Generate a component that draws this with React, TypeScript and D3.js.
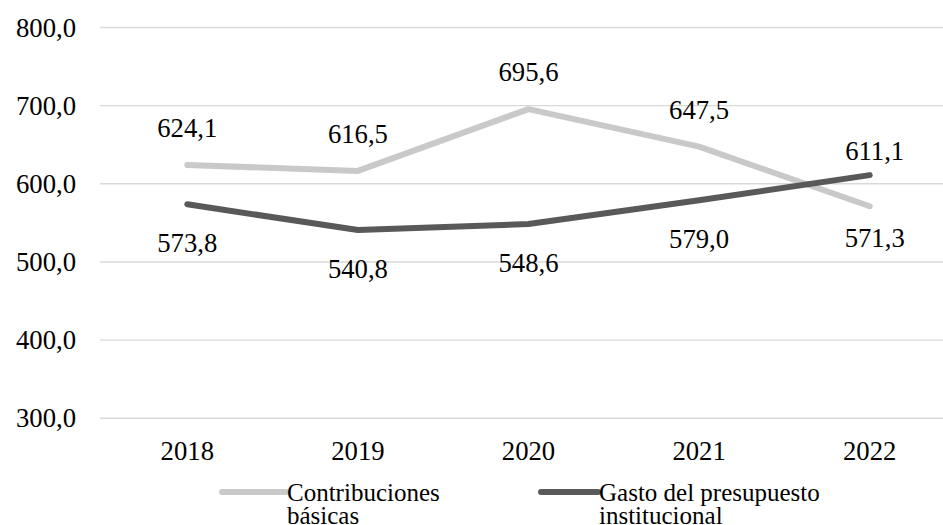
import React from "react";
import * as d3 from "d3";

const categories = ["2018", "2019", "2020", "2021", "2022"];
const contribuciones = [624.1, 616.5, 695.6, 647.5, 571.3];
const gasto = [573.8, 540.8, 548.6, 579.0, 611.1];
const yTicks = [300, 400, 500, 600, 700, 800];
const seriesNames = ["Contribuciones básicas", "Gasto del presupuesto institucional"];

const W = 943;
const H = 525;
const FONT = "'Times New Roman', Times, 'Liberation Serif', 'DejaVu Serif', serif";
const fmt = (v: number) => v.toFixed(1).replace(".", ",");
const txt = (size: number) => ({ fontFamily: FONT, fontSize: `${size}px` });

export default function App() {
  const x = d3.scaleBand<string>().domain(categories).range([102, 955]).padding(0);
  const cx = (c: string) => (x(c) as number) + x.bandwidth() / 2;
  const y = d3.scaleLinear().domain([300, 800]).range([418.3, 27.5]);

  const line = d3
    .line<number>()
    .x((_, i) => cx(categories[i]))
    .y((d) => y(d));

  const series = [
    { name: seriesNames[0], values: contribuciones, other: gasto, color: "#c9c9c9" },
    { name: seriesNames[1], values: gasto, other: contribuciones, color: "#595959" },
  ];

  const labelDy = (above: boolean, i: number) => {
    const last = i === categories.length - 1;
    if (above) return last ? -15 : -28;
    return last ? 41 : 48;
  };

  const legendItems = [
    { lines: ["Contribuciones", "básicas"], color: "#c9c9c9", x1: 222, x2: 286, tx: 287 },
    { lines: ["Gasto del presupuesto", "institucional"], color: "#595959", x1: 541, x2: 598, tx: 599 },
  ];

  return (
    <svg
      width={W}
      height={H}
      style={{ position: "absolute", left: 0, top: 0, background: "#fff", fontFamily: FONT }}
    >
      {yTicks.map((t) => (
        <g key={t}>
          <line x1={100} x2={W} y1={y(t)} y2={y(t)} stroke="#d9d9d9" strokeWidth={1.4} />
          <text x={76} y={y(t) + 9} textAnchor="end" style={txt(26.7)} fill="#000">
            {fmt(t)}
          </text>
        </g>
      ))}
      {categories.map((c) => (
        <text key={c} x={cx(c)} y={460} textAnchor="middle" style={txt(26.7)} fill="#000">
          {c}
        </text>
      ))}
      {series.map((s) => (
        <path
          key={s.name}
          d={line(s.values) || ""}
          fill="none"
          stroke={s.color}
          strokeWidth={6}
          strokeLinecap="round"
          strokeLinejoin="round"
        />
      ))}
      {series.map((s) =>
        s.values.map((v, i) => {
          const above = v >= s.other[i];
          return (
            <text
              key={s.name + i}
              x={cx(categories[i]) + (i === categories.length - 1 ? 5 : 0)}
              y={y(v) + labelDy(above, i)}
              textAnchor="middle"
              style={txt(26.7)}
              fill="#000"
            >
              {fmt(v)}
            </text>
          );
        })
      )}
      {legendItems.map((l, k) => (
        <g key={k}>
          <line x1={l.x1} x2={l.x2} y1={492} y2={492} stroke={l.color} strokeWidth={6} strokeLinecap="round" />
          {l.lines.map((t, j) => (
            <text key={j} x={l.tx} y={501 + j * 23} style={txt(25)} fill="#000">
              {t}
            </text>
          ))}
        </g>
      ))}
    </svg>
  );
}
